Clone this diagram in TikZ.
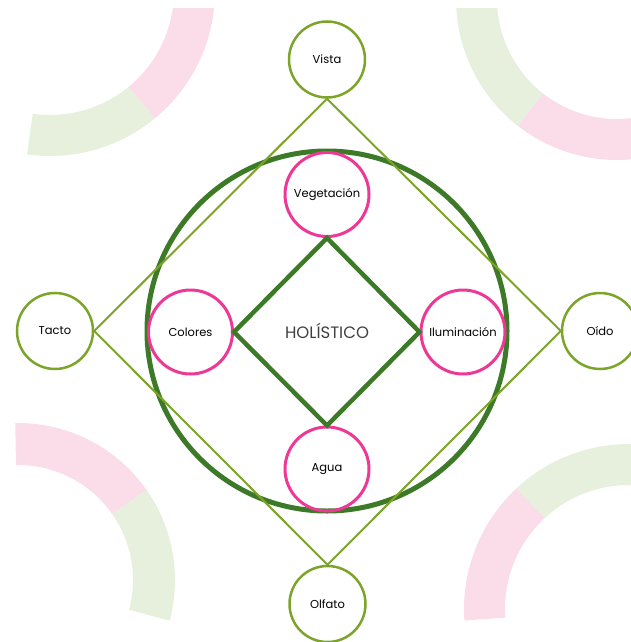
\documentclass[tikz,border=0pt]{standalone}
\usepackage{fontspec}
\setmainfont{Poppins}
\usetikzlibrary{calc}
\definecolor{coregreen}{RGB}{61, 122, 40}
\definecolor{sensegreen}{RGB}{124, 164, 42}
\definecolor{elempink}{RGB}{238, 56, 150}
\definecolor{bandpink}{RGB}{251, 221, 233}
\definecolor{bandgreen}{RGB}{230, 240, 221}
\definecolor{textgray}{RGB}{64, 64, 64}

\begin{document}
\begin{tikzpicture}[x=1pt, y=1pt,
    sense/.style={circle, draw=sensegreen, line width=2.5pt, minimum size=76pt, inner sep=0pt, font=\fontsize{11.5}{13}\selectfont},
    elem/.style={circle, draw=elempink, line width=3pt, minimum size=84pt, inner sep=0pt, font=\fontsize{11.5}{13}\selectfont},
    coreline/.style={draw=coregreen, line width=4.5pt, line join=miter},
    senseline/.style={draw=sensegreen, line width=2pt}]
  \useasboundingbox (0, 0) rectangle (631, -642);

  % Decorative bands in the corners
  \begin{scope}
    \clip (0, -9) rectangle (631, -642);
    \coordinate (tl) at (50, 9);
    \coordinate (tr) at (617, 1);
    \coordinate (br) at (629, -609);
    \coordinate (bl) at (18, -580);
    \fill[bandgreen] ($(tl)+(262:124pt)$) arc[start angle=262, end angle=309.5, radius=124pt] -- ($(tl)+(309.5:165pt)$) arc[start angle=309.5, end angle=262, radius=165pt] -- cycle;
    \fill[bandpink] ($(tl)+(309.5:124pt)$) arc[start angle=309.5, end angle=360, radius=124pt] -- ($(tl)+(360:165pt)$) arc[start angle=360, end angle=309.5, radius=165pt] -- cycle;
    \fill[bandgreen] ($(tr)+(180:120pt)$) arc[start angle=180, end angle=232, radius=120pt] -- ($(tr)+(232:161pt)$) arc[start angle=232, end angle=180, radius=161pt] -- cycle;
    \fill[bandpink] ($(tr)+(232:120pt)$) arc[start angle=232, end angle=290, radius=120pt] -- ($(tr)+(290:161pt)$) arc[start angle=290, end angle=232, radius=161pt] -- cycle;
    \fill[bandgreen] ($(br)+(80:124pt)$) arc[start angle=80, end angle=133, radius=124pt] -- ($(br)+(133:165pt)$) arc[start angle=133, end angle=80, radius=165pt] -- cycle;
    \fill[bandpink] ($(br)+(133:124pt)$) arc[start angle=133, end angle=184, radius=124pt] -- ($(br)+(184:165pt)$) arc[start angle=184, end angle=133, radius=165pt] -- cycle;
    \fill[bandpink] ($(bl)+(35:115pt)$) arc[start angle=35, end angle=91, radius=115pt] -- ($(bl)+(91:157pt)$) arc[start angle=91, end angle=35, radius=157pt] -- cycle;
    \fill[bandgreen] ($(bl)+(-15:115pt)$) arc[start angle=-15, end angle=35, radius=115pt] -- ($(bl)+(35:157pt)$) arc[start angle=35, end angle=-15, radius=157pt] -- cycle;
  \end{scope}

  % Centre and ring
  \node[font=\fontsize{16.5}{19}\selectfont, text=textgray] (hub) at (327, -331) {HOLÍSTICO};
  \draw[coregreen, line width=5pt] (hub.center) circle[radius=180pt];

  % Elements
  \node[elem] (veg) at (327, -194.5) {Vegetación};
  \node[elem] (col) at (190.5, -332) {Colores};
  \node[elem] (ilu) at (463, -332) {Iluminación};
  \node[elem] (agua) at (327, -469) {Agua};

  \draw[coreline] (veg.south) -- (ilu.west) -- (agua.north) -- (col.east) -- cycle;

  % Senses
  \node[sense] (vista) at (327, -59.5) {Vista};
  \node[sense] (tacto) at (55, -331) {Tacto};
  \node[sense] (oido) at (600, -331) {Oído};
  \node[sense] (olfato) at (327.5, -604) {Olfato};

  \draw[senseline] (vista.south) -- (oido.west) -- (olfato.north) -- (tacto.east) -- cycle;
\end{tikzpicture}
\end{document}
